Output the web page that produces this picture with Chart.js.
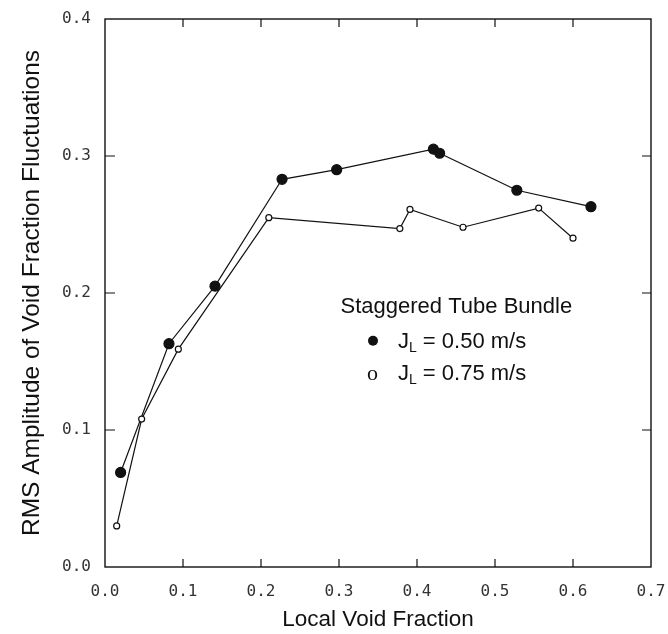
<!DOCTYPE html>
<html lang="en">
<head>
  <meta charset="UTF-8" />
  <title>RMS Amplitude of Void Fraction Fluctuations</title>
  <script src="https://cdn.jsdelivr.net/npm/chart.js"></script>
  <style>
    html, body { margin: 0; padding: 0; background: #fff; }
    .chart-wrapper { position: relative; width: 668px; height: 634px; }
  </style>
</head>
<body>

<div class="chart-wrapper">
  <canvas id="voidChart"></canvas>
</div>

<script>
  // values
  const xTicks = [0.0, 0.1, 0.2, 0.3, 0.4, 0.5, 0.6, 0.7];
  const yTicks = [0.0, 0.1, 0.2, 0.3, 0.4];

  const voidJL050 = [0.020, 0.082, 0.141, 0.227, 0.297, 0.421, 0.429, 0.528, 0.623];
  const rmsJL050  = [0.069, 0.163, 0.205, 0.283, 0.290, 0.305, 0.302, 0.275, 0.263];

  const voidJL075 = [0.015, 0.047, 0.094, 0.210, 0.378, 0.391, 0.459, 0.556, 0.600];
  const rmsJL075  = [0.030, 0.108, 0.159, 0.255, 0.247, 0.261, 0.248, 0.262, 0.240];

  const sans = '"Liberation Sans", Arial, sans-serif';
  const mono = '"DejaVu Sans Mono", "Liberation Mono", monospace';
  const ink = "#111";

  const toPoints = (xs, ys) => xs.map((x, i) => ({ x: x, y: ys[i] }));

  // frame, inward ticks and the text legend
  const framePlugin = {
    id: "frame",
    afterDatasetsDraw(chart) {
      const { ctx, chartArea: a, scales } = chart;
      ctx.save();
      ctx.strokeStyle = ink;
      ctx.lineWidth = 1.4;
      ctx.strokeRect(a.left, a.top, a.right - a.left, a.bottom - a.top);
      ctx.lineWidth = 1.2;
      ctx.beginPath();
      xTicks.slice(1, -1).forEach(v => {
        const px = scales.x.getPixelForValue(v);
        ctx.moveTo(px, a.bottom); ctx.lineTo(px, a.bottom - 8);
        ctx.moveTo(px, a.top); ctx.lineTo(px, a.top + 8);
      });
      yTicks.slice(1, -1).forEach(v => {
        const py = scales.y.getPixelForValue(v);
        ctx.moveTo(a.left, py); ctx.lineTo(a.left + 10, py);
        ctx.moveTo(a.right, py); ctx.lineTo(a.right - 9, py);
      });
      ctx.stroke();

      // legend
      const lx = scales.x.getPixelForValue(0.302);
      const bx = scales.x.getPixelForValue(0.3436);
      const jx = scales.x.getPixelForValue(0.3756);
      const y1 = scales.y.getPixelForValue(0.1854);
      const y2 = scales.y.getPixelForValue(0.160);
      const y3 = scales.y.getPixelForValue(0.1365);

      ctx.fillStyle = ink;
      ctx.textBaseline = "alphabetic";
      ctx.textAlign = "left";
      ctx.font = "22px " + sans;
      ctx.fillText("Staggered Tube Bundle", lx, y1);

      ctx.beginPath();
      ctx.arc(bx, y2 - 7, 5, 0, Math.PI * 2);
      ctx.fill();
      ctx.font = "22px " + '"Liberation Serif", serif';
      ctx.fillText("o", bx - 6, y3);

      [[y2, "0.50"], [y3, "0.75"]].forEach(([yy, v]) => {
        ctx.font = "22px " + sans;
        ctx.fillText("J", jx, yy);
        const w = ctx.measureText("J").width;
        ctx.font = "14px " + sans;
        ctx.fillText("L", jx + w, yy + 4);
        const w2 = ctx.measureText("L").width;
        ctx.font = "22px " + sans;
        ctx.fillText(" = " + v + " m/s", jx + w + w2, yy);
      });
      ctx.restore();
    }
  };

  const lineSet = (label, xs, ys, filled) => ({
    label: label,
    data: toPoints(xs, ys),
    showLine: true,
    borderColor: ink,
    borderWidth: 1.2,
    pointRadius: filled ? 5 : 3,
    pointBackgroundColor: filled ? ink : "#fff",
    pointBorderColor: ink,
    pointBorderWidth: 1.2,
    tension: 0
  });

  new Chart(document.getElementById("voidChart").getContext("2d"), {
    type: "scatter",
    data: {
      datasets: [
        lineSet("JL = 0.75 m/s", voidJL075, rmsJL075, false),
        lineSet("JL = 0.50 m/s", voidJL050, rmsJL050, true)
      ]
    },
    options: {
      responsive: true,
      maintainAspectRatio: false,
      animation: false,
      layout: { padding: { top: 19, right: 17, bottom: 0, left: 0 } },
      plugins: {
        legend: { display: false },
        tooltip: { enabled: false }
      },
      scales: {
        x: {
          type: "linear",
          min: 0, max: 0.7,
          afterBuildTicks: s => { s.ticks = xTicks.map(v => ({ value: v })); },
          afterFit: s => { s.height = 67; s.paddingLeft = 0; s.paddingRight = 0; },
          ticks: {
            callback: v => v.toFixed(1),
            font: { family: mono, size: 16 },
            color: "#333",
            padding: 15,
            maxRotation: 0
          },
          grid: { drawOnChartArea: false, drawTicks: false },
          border: { display: false },
          title: {
            display: true,
            text: "Local Void Fraction",
            font: { family: sans, size: 22.5, lineHeight: 1.2 },
            color: ink,
            padding: { top: 0, bottom: 1 }
          }
        },
        y: {
          type: "linear",
          min: 0, max: 0.4,
          afterBuildTicks: s => { s.ticks = yTicks.map(v => ({ value: v })); },
          afterFit: s => { s.width = 105; s.paddingTop = 0; s.paddingBottom = 0; },
          ticks: {
            callback: v => v.toFixed(1),
            font: { family: mono, size: 16 },
            color: "#333",
            padding: 14
          },
          grid: { drawOnChartArea: false, drawTicks: false },
          border: { display: false },
          title: {
            display: true,
            text: "RMS Amplitude of Void Fraction Fluctuations",
            font: { family: sans, size: 24.5, lineHeight: 1.2 },
            color: ink,
            padding: { top: 18, bottom: 0 }
          }
        }
      }
    },
    plugins: [framePlugin]
  });
</script>
</body>
</html>
